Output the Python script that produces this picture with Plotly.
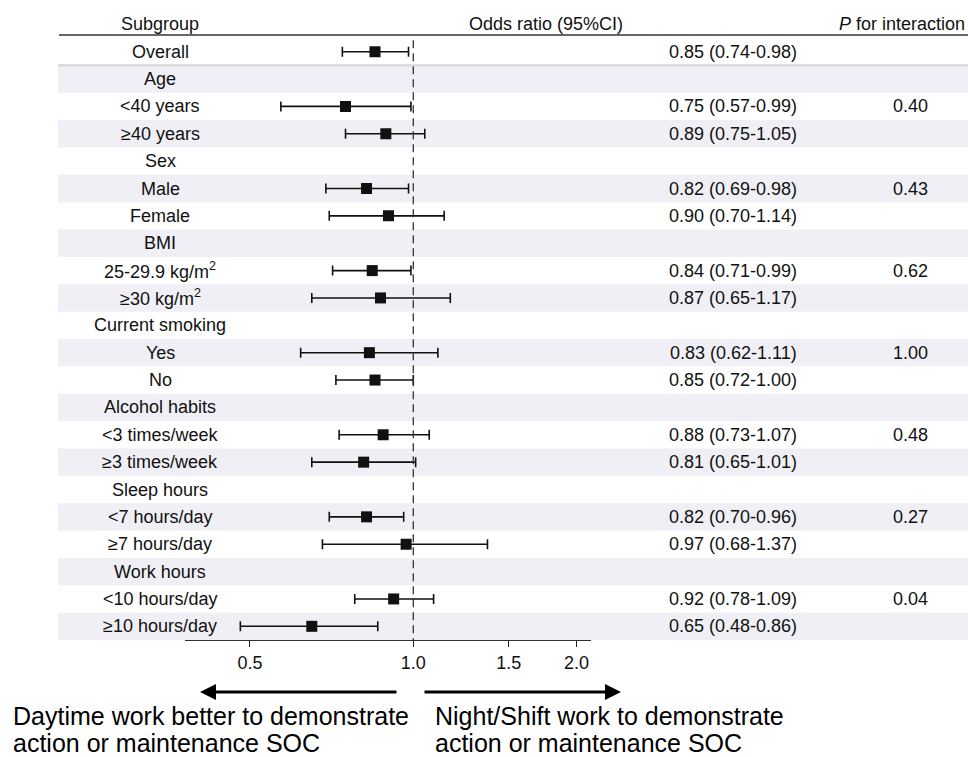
import plotly.graph_objects as go

# ---------------- data ----------------
labels = ["Overall", "Age", "<40 years", "≥40 years", "Sex", "Male", "Female",
          "BMI", "25-29.9 kg/m<sup>2</sup>", "≥30 kg/m<sup>2</sup>", "Current smoking", "Yes", "No",
          "Alcohol habits", "<3 times/week", "≥3 times/week", "Sleep hours",
          "<7 hours/day", "≥7 hours/day", "Work hours", "<10 hours/day", "≥10 hours/day"]
or_vals = [0.85, None, 0.75, 0.89, None, 0.82, 0.90, None, 0.84, 0.87, None, 0.83, 0.85,
           None, 0.88, 0.81, None, 0.82, 0.97, None, 0.92, 0.65]
ci_low = [0.74, None, 0.57, 0.75, None, 0.69, 0.70, None, 0.71, 0.65, None, 0.62, 0.72,
          None, 0.73, 0.65, None, 0.70, 0.68, None, 0.78, 0.48]
ci_high = [0.98, None, 0.99, 1.05, None, 0.98, 1.14, None, 0.99, 1.17, None, 1.11, 1.00,
           None, 1.07, 1.01, None, 0.96, 1.37, None, 1.09, 0.86]
p_inter = ["", "", "0.40", "", "", "0.43", "", "", "0.62", "", "", "1.00", "", "",
           "0.48", "", "", "0.27", "", "", "0.04", ""]
tick_vals = [0.5, 1.0, 1.5, 2.0]
tick_text = ["0.5", "1.0", "1.5", "2.0"]
headers = ["Subgroup", "Odds ratio (95%CI)", "<i>P</i> for interaction"]
left_note = ["Daytime work better to demonstrate", "action or maintenance SOC"]
right_note = ["Night/Shift work to demonstrate", "action or maintenance SOC"]

W, H = 968, 757
FONT = "Arial, Liberation Sans, Helvetica, sans-serif"
n = len(labels)

def px(xp):
    return xp / W

def py(yp):
    return 1 - yp / H

idx = [i for i, v in enumerate(or_vals) if v is not None]
xs = [or_vals[i] for i in idx]
ys = [i for i in idx]
plus = [ci_high[i] - or_vals[i] for i in idx]
minus = [or_vals[i] - ci_low[i] for i in idx]

fig = go.Figure()
fig.add_trace(go.Scatter(
    x=xs, y=ys, mode="markers",
    marker=dict(symbol="square", size=11, color="#111111"),
    error_x=dict(type="data", symmetric=False, array=plus, arrayminus=minus,
                 color="#111111", thickness=1.6, width=5),
    hoverinfo="skip", showlegend=False,
))

shapes = []
# alternating bands
for i in range(n):
    if i % 2 == 1:
        shapes.append(dict(type="rect", xref="paper", yref="y", x0=px(58), x1=1,
                           y0=i - 0.5, y1=i + 0.5, fillcolor="#efeff5",
                           line=dict(width=0), layer="below"))
# separator under overall
shapes.append(dict(type="line", xref="paper", yref="y", x0=px(58), x1=1, y0=0.5, y1=0.5,
                   line=dict(color="#d6d6d6", width=2), layer="below"))
# header line
shapes.append(dict(type="line", xref="paper", yref="paper", x0=px(59), x1=1,
                   y0=py(35), y1=py(35), line=dict(color="#333333", width=1.5)))
# reference dashed line
shapes.append(dict(type="line", xref="x", yref="y", x0=1, x1=1, y0=-0.42, y1=21.5,
                   line=dict(color="#333333", width=1.3, dash="8px,5px")))

annotations = []
for i in range(n):
    annotations.append(dict(xref="paper", yref="y", x=px(160), y=i, text=labels[i],
                            showarrow=False, xanchor="center", yanchor="middle",
                            font=dict(size=18, color="#111111", family=FONT)))
    if or_vals[i] is not None:
        txt = f"{or_vals[i]:.2f} ({ci_low[i]:.2f}-{ci_high[i]:.2f})"
        annotations.append(dict(xref="paper", yref="y", x=px(733), y=i, text=txt,
                                showarrow=False, xanchor="center", yanchor="middle",
                                font=dict(size=18, color="#111111", family=FONT)))
    if p_inter[i]:
        annotations.append(dict(xref="paper", yref="y", x=px(910), y=i, text=p_inter[i],
                                showarrow=False, xanchor="center", yanchor="middle",
                                font=dict(size=18, color="#111111", family=FONT)))
for h, xc, anc in zip(headers, [160, 546, 967], ["center", "center", "right"]):
    annotations.append(dict(xref="paper", yref="paper", x=px(xc), y=py(24), text=h,
                            showarrow=False, xanchor=anc, yanchor="middle",
                            font=dict(size=18, color="#111111", family=FONT)))
# arrows
annotations.append(dict(xref="paper", yref="paper", x=px(200), y=py(692), ax=198, ay=0,
                        text="", showarrow=True, arrowhead=2, arrowsize=1.0,
                        arrowwidth=3.2, arrowcolor="#000000"))
annotations.append(dict(xref="paper", yref="paper", x=px(621), y=py(692), ax=-198, ay=0,
                        text="", showarrow=True, arrowhead=2, arrowsize=1.0,
                        arrowwidth=3.2, arrowcolor="#000000"))
for note, x0 in [(left_note, 11), (right_note, 433)]:
    for k, line in enumerate(note):
        annotations.append(dict(xref="paper", yref="paper", x=px(x0), y=py(716 + 27 * k),
                                text=line, showarrow=False, xanchor="left",
                                yanchor="middle", align="left",
                                font=dict(size=25, color="#000000", family=FONT)))

fig.update_layout(
    width=W, height=H, autosize=False,
    margin=dict(l=0, r=0, t=0, b=0),
    paper_bgcolor="white", plot_bgcolor="rgba(0,0,0,0)",
    xaxis=dict(type="log", domain=[px(185), px(590.7)], range=[-0.4208, 0.327],
               tickvals=tick_vals, ticktext=tick_text, ticks="outside", ticklen=6,
               tickwidth=1.3, tickcolor="#222222", showline=True, linecolor="#333333",
               linewidth=1.3, showgrid=False, zeroline=False,
               tickfont=dict(size=18, color="#111111", family=FONT)),
    yaxis=dict(domain=[py(640), py(38)], range=[n - 0.5, -0.5], visible=False,
               showgrid=False, zeroline=False),
    shapes=shapes, annotations=annotations,
)
fig.write_html("out.html", config={"displayModeBar": False},
               post_script="document.body.style.margin='0px';")
